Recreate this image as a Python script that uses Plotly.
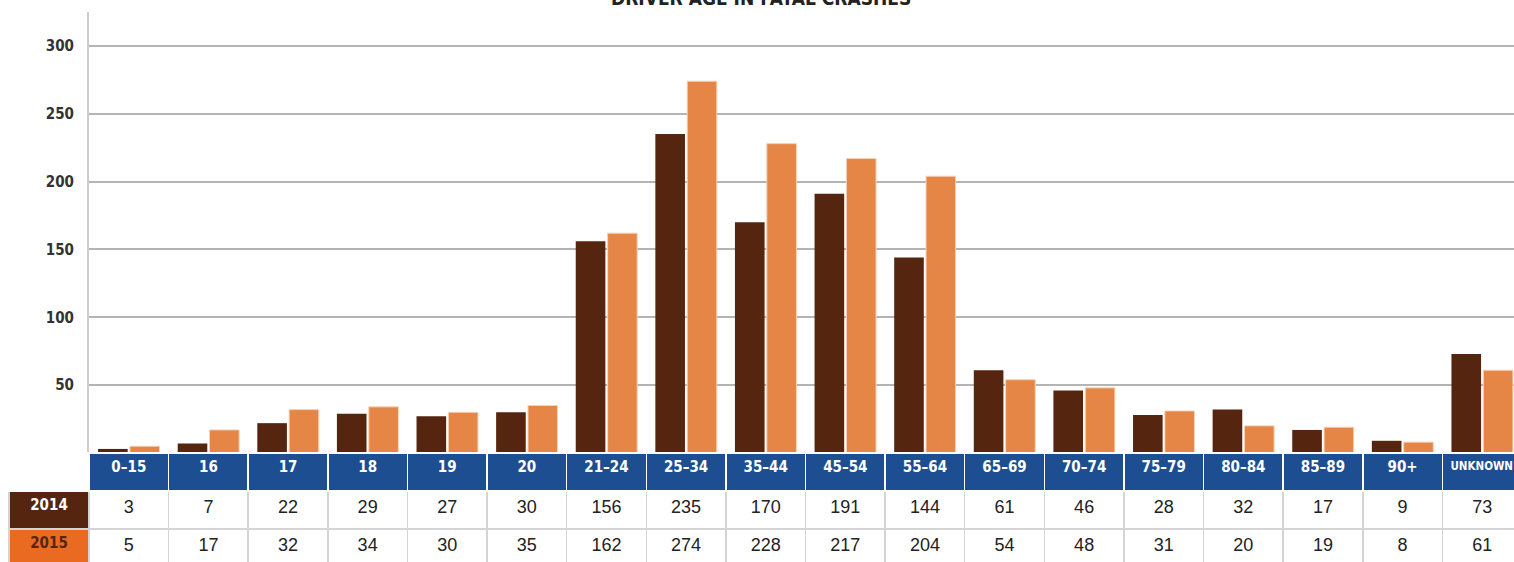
import plotly.graph_objects as go

age_groups = ["0\u201315", "16", "17", "18", "19", "20", "21\u201324", "25\u201334", "35\u201344",
              "45\u201354", "55\u201364", "65\u201369", "70\u201374", "75\u201379", "80\u201384",
              "85\u201389", "90+", "UNKNOWN"]
crashes_2014 = [3, 7, 22, 29, 27, 30, 156, 235, 170, 191, 144, 61, 46, 28, 32, 17, 9, 73]
crashes_2015 = [5, 17, 32, 34, 30, 35, 162, 274, 228, 217, 204, 54, 48, 31, 20, 19, 8, 61]
years = ["2014", "2015"]
y_ticks = [50, 100, 150, 200, 250, 300]

BROWN = "#55250f"
ORANGE_BAR = "#e58646"
ORANGE_LABEL = "#ea6a22"
BLUE = "#1d4e91"
COND = "DejaVu Sans Condensed"

# figure a bit larger than the 1514x562 window: like the original, the last
# column and the last table row run past the edge and get cut
W, H = 1522, 570


def px_x(x):
    return x / W


def px_y(y):
    return 1 - y / H


plot_left, plot_bottom, plot_top = 89, 453, 12

fig = go.Figure()
fig.add_trace(go.Bar(x=age_groups, y=crashes_2014, name=years[0],
                     marker=dict(color=BROWN, line=dict(width=0))))
fig.add_trace(go.Bar(x=age_groups, y=crashes_2015, name=years[1],
                     marker=dict(color=ORANGE_BAR, line=dict(width=1, color="#f6d2b8"))))

# data table under the bars
n = len(age_groups)
col_w = (W - plot_left) / n
header_fill = ["white"] + [BLUE] * n
header_size = [15] + [15 if len(a) < 6 else 11.5 for a in age_groups]
header_align = ["center"] * n + ["left"]
cell_fill = [[BROWN, ORANGE_LABEL]] + [["white", "white"]] * n
cell_font_color = [["white", BROWN]] + [["#222222", "#222222"]] * n
cell_font_family = [COND] + ["Liberation Sans"] * n
fig.add_trace(go.Table(
    domain=dict(x=[px_x(9), 1], y=[0, px_y(plot_bottom)]),
    columnwidth=[plot_left - 9] + [col_w] * n,
    header=dict(values=[""] + age_groups, fill_color=header_fill,
                line=dict(color="white", width=1.5), height=38, align=header_align,
                font=dict(family=COND, size=header_size, color="white", weight="bold")),
    cells=dict(values=[years] + [[a, b] for a, b in zip(crashes_2014, crashes_2015)],
               fill_color=cell_fill, line=dict(color="#d4d4d4", width=1.5),
               height=38, align="center",
               font=dict(family=cell_font_family, size=[15] + [18] * n,
                         color=cell_font_color, weight=["bold"] + ["normal"] * n)),
))

fig.update_layout(
    width=W, height=H,
    margin=dict(l=0, r=0, t=0, b=0),
    paper_bgcolor="white", plot_bgcolor="white",
    barmode="group", bargap=0.2, bargroupgap=0.07,
    showlegend=False,
    xaxis=dict(domain=[px_x(plot_left), 1], showticklabels=False, ticks="",
               showgrid=False, showline=True, linecolor="#b0b0b0", linewidth=2,
               fixedrange=True),
    yaxis=dict(domain=[px_y(plot_bottom), px_y(plot_top)], range=[0, 325],
               tickvals=y_ticks, ticks="", showgrid=True, gridcolor="#b4b4b4",
               gridwidth=1.5, showline=True, linecolor="#cccccc", linewidth=2,
               zeroline=False, ticklabelstandoff=10,
               tickfont=dict(family=COND, size=15, color="#333333", weight="bold")),
)

fig.add_annotation(text="DRIVER AGE IN FATAL CRASHES", xref="paper", yref="paper",
                   x=px_x(761), y=px_y(-2), xanchor="center", yanchor="middle",
                   showarrow=False,
                   font=dict(family=COND, size=19, color="#222222", weight="bold"))

# drop the default body margin so the figure sits at the window's top-left corner
fig.write_html("out.html", config={"displayModeBar": False}, post_script=(
    "document.body.style.margin='0';"
    "document.documentElement.style.overflow='hidden';"
    "document.body.style.overflow='hidden';"))
